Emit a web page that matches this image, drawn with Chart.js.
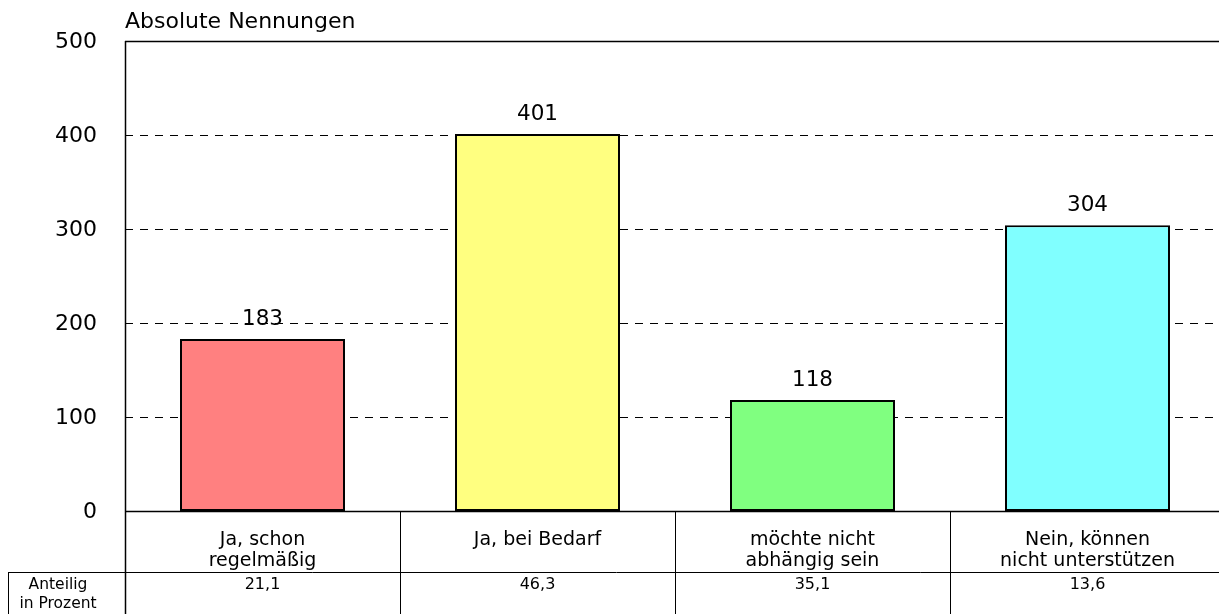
<!DOCTYPE html>
<html>
<head>
<meta charset="utf-8">
<script src="https://cdn.jsdelivr.net/npm/chart.js@4"></script>
<style>
  html, body { margin: 0; padding: 0; background: #fff; overflow: hidden; }
  #wrap { width: 1219px; height: 614px; overflow: hidden; }
</style>
</head>
<body>
<div id="wrap">
<canvas id="bars-id" width="1225" height="614" style="width:1225px;height:614px"></canvas>
</div>
<script>
const categories = [["Ja, schon", "regelmäßig"], ["Ja, bei Bedarf"], ["möchte nicht", "abhängig sein"], ["Nein, können", "nicht unterstützen"]];
const counts = [183, 401, 118, 304];
const percents = ["21,1", "46,3", "35,1", "13,6"];
const barColors = ["#ff8080", "#ffff80", "#80ff80", "#80ffff"];
const yTicks = [0, 100, 200, 300, 400, 500];

const FONT = "'DejaVu Sans', Verdana, sans-serif";

// draws grid, axis lines, tick labels, value labels and the percent table
const tablePlugin = {
  id: "tablePlugin",
  beforeDatasetsDraw(chart) {
    const ctx = chart.ctx;
    const y = chart.scales.y;
    const area = chart.chartArea;
    ctx.save();
    ctx.strokeStyle = "#000";
    yTicks.forEach((v) => {
      const py = Math.round(y.getPixelForValue(v)) + 0.5;
      const solid = v === 0 || v === 500;
      ctx.setLineDash(solid ? [] : [8, 7]);
      ctx.lineWidth = solid ? 1.5 : 1;
      ctx.beginPath();
      ctx.moveTo(area.left, py);
      ctx.lineTo(chart.width, py);
      ctx.stroke();
    });
    ctx.restore();
  },
  afterDraw(chart) {
    const ctx = chart.ctx;
    const x = chart.scales.x;
    const y = chart.scales.y;
    const area = chart.chartArea;
    const step = x.getPixelForValue(1) - x.getPixelForValue(0);
    const rowY = 572;
    ctx.save();
    ctx.strokeStyle = "#000";
    ctx.setLineDash([]);
    ctx.lineWidth = 1.5;
    // left axis
    ctx.beginPath();
    ctx.moveTo(area.left + 0.5, area.top);
    ctx.lineTo(area.left + 0.5, chart.height);
    ctx.stroke();
    ctx.lineWidth = 1;
    // category separators
    for (let i = 1; i < categories.length; i++) {
      const px = Math.round(x.getPixelForValue(i) - step / 2) + 0.5;
      ctx.beginPath();
      ctx.moveTo(px, area.bottom);
      ctx.lineTo(px, chart.height);
      ctx.stroke();
    }
    // percent row
    ctx.beginPath();
    ctx.moveTo(8, rowY + 0.5);
    ctx.lineTo(chart.width, rowY + 0.5);
    ctx.moveTo(8.5, rowY);
    ctx.lineTo(8.5, chart.height);
    ctx.stroke();

    ctx.fillStyle = "#000";
    ctx.textBaseline = "middle";

    // y tick labels
    ctx.textAlign = "right";
    ctx.font = "22px " + FONT;
    yTicks.forEach((v) => {
      ctx.fillText(String(v), 97, y.getPixelForValue(v) + 1.5);
    });

    ctx.textAlign = "center";
    ctx.font = "15.5px " + FONT;
    ctx.fillText("Anteilig", 58, 585);
    ctx.fillText("in Prozent", 58, 604);
    ctx.font = "16px " + FONT;
    percents.forEach((p, i) => {
      ctx.fillText(p, x.getPixelForValue(i), 585);
    });

    // value labels
    ctx.font = "21.5px " + FONT;
    counts.forEach((v, i) => {
      ctx.fillText(String(v), x.getPixelForValue(i), y.getPixelForValue(v) - 19.5);
    });

    // title
    ctx.textAlign = "left";
    ctx.font = "22px " + FONT;
    ctx.fillText("Absolute Nennungen", area.left, 22);
    ctx.restore();
  }
};

new Chart(document.getElementById("bars-id").getContext("2d"), {
  type: "bar",
  data: {
    labels: categories,
    datasets: [{
      data: counts,
      backgroundColor: barColors,
      borderColor: "#000",
      borderWidth: 2,
      borderSkipped: false,
      barPercentage: 0.6,
      categoryPercentage: 1.0
    }]
  },
  options: {
    responsive: false,
    animation: false,
    layout: { padding: { top: 41, right: 0, bottom: 0, left: 0 } },
    plugins: {
      legend: { display: false },
      tooltip: { enabled: false },
      title: { display: false }
    },
    scales: {
      x: {
        grid: { display: false, drawTicks: false },
        border: { display: false },
        ticks: {
          color: "#000",
          font: { family: FONT, size: 19, lineHeight: "21px" },
          padding: 19,
          maxRotation: 0,
          autoSkip: false
        },
        afterFit(scale) { scale.height = 103; }
      },
      y: {
        min: 0,
        max: 500,
        grid: { display: false, drawTicks: false },
        border: { display: false },
        ticks: { display: false, stepSize: 100 },
        afterFit(scale) { scale.width = 125; }
      }
    }
  },
  plugins: [tablePlugin]
});
</script>
</body>
</html>
